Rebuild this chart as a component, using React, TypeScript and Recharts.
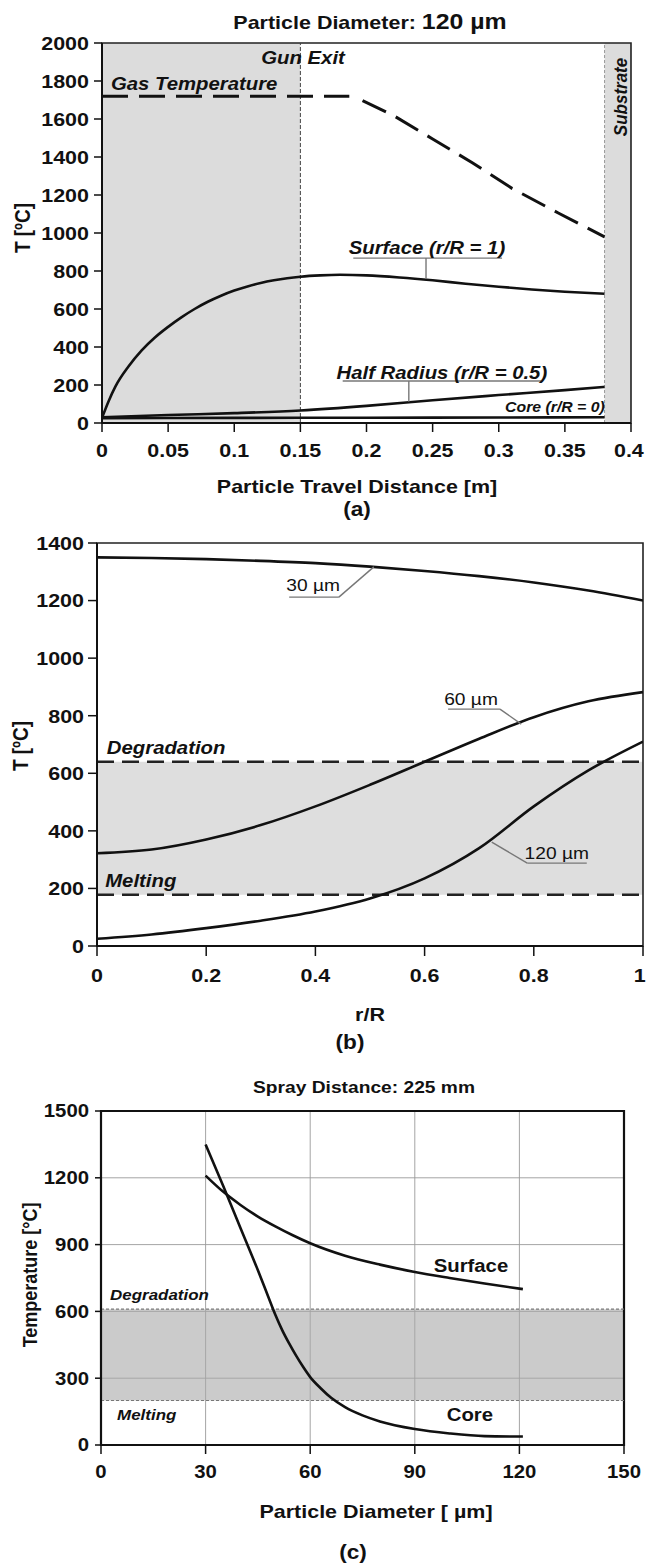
import React from 'react';
import {
  LineChart,
  Line,
  XAxis,
  YAxis,
  ReferenceArea,
  ReferenceLine,
  ReferenceDot,
  CartesianGrid,
} from 'recharts';

const FONT = '"Liberation Sans", Arial, Helvetica, sans-serif';
const SX = 1.13;
const INK = '#111';

// ---------------- Panel (a) data ----------------
const aXTicks = [0, 0.05, 0.1, 0.15, 0.2, 0.25, 0.3, 0.35, 0.4];
const aYTicks = [0, 200, 400, 600, 800, 1000, 1200, 1400, 1600, 1800, 2000];
const aGunExit = 0.15;
const aSubstrate = 0.38;
const aGasFlat = [
  { x: 0, y: 1720 },
  { x: 0.187, y: 1720 },
];
const aGasDecline = [
  { x: 0.197, y: 1697 },
  { x: 0.22, y: 1620 },
  { x: 0.25, y: 1495 },
  { x: 0.28, y: 1370 },
  { x: 0.31, y: 1235 },
  { x: 0.345, y: 1105 },
  { x: 0.38, y: 980 },
];
const aSurface = [
  { x: 0, y: 27 },
  { x: 0.005, y: 115 },
  { x: 0.01, y: 190 },
  { x: 0.02, y: 297 },
  { x: 0.03, y: 382 },
  { x: 0.04, y: 450 },
  { x: 0.05, y: 506 },
  { x: 0.06, y: 556 },
  { x: 0.07, y: 600 },
  { x: 0.08, y: 638 },
  { x: 0.09, y: 670 },
  { x: 0.1, y: 697 },
  { x: 0.11, y: 719 },
  { x: 0.12, y: 737 },
  { x: 0.13, y: 751 },
  { x: 0.14, y: 762 },
  { x: 0.15, y: 770 },
  { x: 0.165, y: 777 },
  { x: 0.18, y: 780 },
  { x: 0.2, y: 777 },
  { x: 0.225, y: 766 },
  { x: 0.25, y: 751 },
  { x: 0.275, y: 733 },
  { x: 0.3, y: 717 },
  { x: 0.325, y: 703 },
  { x: 0.35, y: 691 },
  { x: 0.38, y: 680 },
];
const aHalf = [
  { x: 0, y: 30 },
  { x: 0.05, y: 42 },
  { x: 0.1, y: 52 },
  { x: 0.15, y: 66 },
  { x: 0.2, y: 90 },
  { x: 0.25, y: 120 },
  { x: 0.3, y: 147 },
  { x: 0.35, y: 173 },
  { x: 0.38, y: 190 },
];
const aCore = [
  { x: 0, y: 25 },
  { x: 0.1, y: 27 },
  { x: 0.2, y: 28 },
  { x: 0.3, y: 29 },
  { x: 0.38, y: 30 },
];

// ---------------- Panel (b) data ----------------
const bXTicks = [0, 0.2, 0.4, 0.6, 0.8, 1];
const bYTicks = [0, 200, 400, 600, 800, 1000, 1200, 1400];
const bDegradation = 640;
const bMelting = 178;
const b30 = [
  { x: 0, y: 1350 },
  { x: 0.1, y: 1348 },
  { x: 0.2, y: 1344 },
  { x: 0.3, y: 1338 },
  { x: 0.4, y: 1330 },
  { x: 0.5, y: 1318 },
  { x: 0.6, y: 1303 },
  { x: 0.7, y: 1285 },
  { x: 0.8, y: 1263 },
  { x: 0.9, y: 1235 },
  { x: 1, y: 1200 },
];
const b60 = [
  { x: 0, y: 322 },
  { x: 0.1, y: 335 },
  { x: 0.2, y: 370 },
  { x: 0.3, y: 420 },
  { x: 0.4, y: 485 },
  { x: 0.5, y: 560 },
  { x: 0.6, y: 640 },
  { x: 0.7, y: 720 },
  { x: 0.8, y: 795 },
  { x: 0.9, y: 850 },
  { x: 1, y: 882 },
];
const b120 = [
  { x: 0, y: 25 },
  { x: 0.1, y: 40 },
  { x: 0.2, y: 62 },
  { x: 0.3, y: 88 },
  { x: 0.4, y: 120 },
  { x: 0.5, y: 165 },
  { x: 0.6, y: 235 },
  { x: 0.7, y: 340 },
  { x: 0.8, y: 485 },
  { x: 0.9, y: 610 },
  { x: 1, y: 710 },
];

// ---------------- Panel (c) data ----------------
const cXTicks = [0, 30, 60, 90, 120, 150];
const cYTicks = [0, 300, 600, 900, 1200, 1500];
const cDegradation = 610;
const cMelting = 200;
const cSurface = [
  { x: 30, y: 1210 },
  { x: 35, y: 1138 },
  { x: 40, y: 1078 },
  { x: 45, y: 1026 },
  { x: 50, y: 982 },
  { x: 55, y: 942 },
  { x: 60, y: 906 },
  { x: 70, y: 850 },
  { x: 80, y: 810 },
  { x: 90, y: 777 },
  { x: 100, y: 750 },
  { x: 110, y: 725 },
  { x: 121, y: 700 },
];
const cCore = [
  { x: 30, y: 1350 },
  { x: 35, y: 1165 },
  { x: 40, y: 975 },
  { x: 45, y: 785 },
  { x: 48, y: 665 },
  { x: 50, y: 585 },
  { x: 52, y: 515 },
  { x: 54, y: 455 },
  { x: 56, y: 400 },
  { x: 58, y: 350 },
  { x: 60, y: 305 },
  { x: 63, y: 255 },
  { x: 66, y: 212 },
  { x: 70, y: 170 },
  { x: 75, y: 133 },
  { x: 80, y: 106 },
  { x: 90, y: 72 },
  { x: 100, y: 52 },
  { x: 110, y: 40 },
  { x: 121, y: 38 },
];

// ---------------- helpers ----------------
const RIGHT_LIMIT = 645;
const makeXTick = (fs: number) => (props: any) => {
  const { x, y, payload } = props;
  const est = String(payload.value).length * fs * 0.5 * SX;
  const dx = Math.min(0, RIGHT_LIMIT - (x + est / 2));
  return (
    <g transform={`translate(${x + dx},${y}) scale(${SX},1)`}>
      <text x={0} y={0} dy={fs * 0.72} textAnchor="middle" fontSize={fs} fontWeight="bold" fontFamily={FONT} fill={INK}>
        {payload.value}
      </text>
    </g>
  );
};
const makeYTick = (fs: number) => (props: any) => {
  const { x, y, payload } = props;
  return (
    <g transform={`translate(${x},${y}) scale(${SX},1)`}>
      <text x={0} y={0} dy={fs * 0.36} textAnchor="end" fontSize={fs} fontWeight="bold" fontFamily={FONT} fill={INK}>
        {payload.value}
      </text>
    </g>
  );
};

type AnnOpts = {
  fs: number;
  italic?: boolean;
  bold?: boolean;
  anchor?: 'start' | 'middle' | 'end';
  rotate?: number;
  color?: string;
};
const ann = (text: string, o: AnnOpts) => (props: any) => {
  const vb = props.viewBox || {};
  const cx = (vb.x ?? props.x ?? 0) + (vb.width ?? 0) / 2;
  const cy = (vb.y ?? props.y ?? 0) + (vb.height ?? 0) / 2;
  const tr = o.rotate
    ? `translate(${cx},${cy}) rotate(${o.rotate}) scale(1,${SX})`
    : `translate(${cx},${cy}) scale(${SX},1)`;
  return (
    <g transform={tr}>
      <text
        x={0}
        y={0}
        dy={o.fs * 0.36}
        textAnchor={o.anchor || 'middle'}
        fontSize={o.fs}
        fontStyle={o.italic ? 'italic' : 'normal'}
        fontWeight={o.bold === false ? 'normal' : 'bold'}
        fontFamily={FONT}
        fill={o.color || INK}
      >
        {text}
      </text>
    </g>
  );
};

const Note = (x: number, y: number, text: string, o: AnnOpts) => (
  <ReferenceDot key={`n-${text}`} x={x} y={y} r={0} fill="none" stroke="none" label={ann(text, o)} />
);
const Seg = (k: string, x1: number, y1: number, x2: number, y2: number, color = '#777', w = 1.4) => (
  <ReferenceLine
    key={k}
    segment={[
      { x: x1, y: y1 },
      { x: x2, y: y2 },
    ]}
    stroke={color}
    strokeWidth={w}
  />
);

const curve = { type: 'monotone' as const, dataKey: 'y', stroke: INK, dot: false, activeDot: false, isAnimationActive: false };

const axisLine = { stroke: INK, strokeWidth: 2 };
const tickLine = { stroke: INK, strokeWidth: 1.5 };

function PanelA() {
  return (
    <LineChart width={647} height={500} margin={{ top: 43, right: 16, left: 42, bottom: 47 }}>
      <XAxis
        dataKey="x"
        type="number"
        domain={[0, 0.4]}
        ticks={aXTicks}
        interval={0}
        height={30}
        tickSize={9}
        tickMargin={11}
        axisLine={axisLine}
        tickLine={tickLine}
        tick={makeXTick(19)}
        allowDataOverflow
      />
      <YAxis
        type="number"
        domain={[0, 2000]}
        ticks={aYTicks}
        interval={0}
        width={60}
        tickSize={8}
        tickMargin={5}
        axisLine={axisLine}
        tickLine={tickLine}
        tick={makeYTick(19)}
        allowDataOverflow
      />
      <ReferenceArea x1={0} x2={aGunExit} y1={0} y2={2000} fill="#dcdcdc" fillOpacity={1} stroke="none" />
      <ReferenceArea x1={aSubstrate} x2={0.4} y1={0} y2={2000} fill="#dcdcdc" fillOpacity={1} stroke="none" />
      <ReferenceArea x1={0} x2={0.4} y1={0} y2={2000} fill="none" stroke="#222" strokeWidth={1.6} />
      <ReferenceLine x={aGunExit} stroke="#444" strokeWidth={1} strokeDasharray="4 2" />
      <ReferenceLine x={aSubstrate} stroke="#999" strokeWidth={1} strokeDasharray="3 2" />
      <Line {...curve} data={aGasFlat} type="linear" strokeWidth={3} strokeDasharray="26 11" />
      <Line {...curve} data={aGasDecline} type="linear" strokeWidth={3} strokeDasharray="26 11" />
      <Line {...curve} data={aSurface} strokeWidth={2.6} />
      <Line {...curve} data={aHalf} strokeWidth={2.6} />
      <Line {...curve} data={aCore} strokeWidth={2.6} />
      {Seg('a-su-u', 0.19, 868, 0.3025, 868)}
      {Seg('a-su-l', 0.245, 868, 0.245, 758)}
      {Seg('a-hr-u', 0.182, 221, 0.332, 221)}
      {Seg('a-hr-l', 0.232, 221, 0.232, 112)}
      {Note(0.0068, 1789, 'Gas Temperature', { fs: 18, italic: true, anchor: 'start' })}
      {Note(0.152, 1921, 'Gun Exit', { fs: 18, italic: true })}
      {Note(0.3917, 1716, 'Substrate', { fs: 17, italic: true, rotate: -90 })}
      {Note(0.2457, 926, 'Surface (r/R = 1)', { fs: 18, italic: true })}
      {Note(0.257, 268, 'Half Radius (r/R = 0.5)', { fs: 18, italic: true })}
      {Note(0.3425, 84, 'Core (r/R = 0)', { fs: 14, italic: true })}
    </LineChart>
  );
}

function PanelB() {
  return (
    <LineChart width={647} height={500} margin={{ top: 43, right: 4, left: 37, bottom: 24 }}>
      <XAxis
        dataKey="x"
        type="number"
        domain={[0, 1]}
        ticks={bXTicks}
        interval={0}
        height={30}
        tickSize={10}
        tickMargin={12}
        axisLine={axisLine}
        tickLine={tickLine}
        tick={makeXTick(19)}
        allowDataOverflow
      />
      <YAxis
        type="number"
        domain={[0, 1400]}
        ticks={bYTicks}
        interval={0}
        width={60}
        tickSize={9}
        tickMargin={4}
        axisLine={axisLine}
        tickLine={tickLine}
        tick={makeYTick(19)}
        allowDataOverflow
      />
      <ReferenceArea x1={0} x2={1} y1={bMelting} y2={bDegradation} fill="#dedede" fillOpacity={1} stroke="none" />
      <ReferenceArea x1={0} x2={1} y1={0} y2={1400} fill="none" stroke="#222" strokeWidth={1.6} />
      <ReferenceLine y={bDegradation} stroke="#222" strokeWidth={2.4} strokeDasharray="17 8" />
      <ReferenceLine y={bMelting} stroke="#222" strokeWidth={2.4} strokeDasharray="17 8" />
      <Line {...curve} data={b30} strokeWidth={2.6} />
      <Line {...curve} data={b60} strokeWidth={2.6} />
      <Line {...curve} data={b120} strokeWidth={2.6} />
      {Seg('b30-u', 0.352, 1212, 0.443, 1212)}
      {Seg('b30-l', 0.443, 1212, 0.507, 1317)}
      {Seg('b60-u', 0.643, 823, 0.738, 823)}
      {Seg('b60-l', 0.738, 823, 0.777, 771)}
      {Seg('b120-u', 0.788, 288, 0.897, 288)}
      {Seg('b120-l', 0.788, 288, 0.723, 361)}
      {Note(0.396, 1254, '30 µm', { fs: 17, bold: false })}
      {Note(0.685, 858, '60 µm', { fs: 17, bold: false })}
      {Note(0.842, 323, '120 µm', { fs: 17, bold: false })}
      {Note(0.018, 691, 'Degradation', { fs: 18, italic: true, anchor: 'start' })}
      {Note(0.015, 229, 'Melting', { fs: 18, italic: true, anchor: 'start' })}
    </LineChart>
  );
}

function PanelC() {
  return (
    <LineChart width={647} height={565} margin={{ top: 111, right: 23, left: 41, bottom: 90 }}>
      <CartesianGrid stroke="#9a9a9a" strokeWidth={0.9} />
      <XAxis
        dataKey="x"
        type="number"
        domain={[0, 150]}
        ticks={cXTicks}
        interval={0}
        height={30}
        tickSize={9}
        tickMargin={11}
        axisLine={axisLine}
        tickLine={tickLine}
        tick={makeXTick(18)}
        allowDataOverflow
      />
      <YAxis
        type="number"
        domain={[0, 1500]}
        ticks={cYTicks}
        interval={0}
        width={60}
        tickSize={6}
        tickMargin={6}
        axisLine={axisLine}
        tickLine={tickLine}
        tick={makeYTick(18)}
        allowDataOverflow
      />
      <ReferenceArea x1={0} x2={150} y1={cMelting} y2={cDegradation} fill="#a8a8a8" fillOpacity={0.6} stroke="none" />
      <ReferenceArea x1={0} x2={150} y1={0} y2={1500} fill="none" stroke="#111" strokeWidth={2.2} />
      <ReferenceLine y={cDegradation} stroke="#777" strokeWidth={1.1} strokeDasharray="3 2" />
      <ReferenceLine y={cMelting} stroke="#777" strokeWidth={1.1} strokeDasharray="3 2" />
      <Line {...curve} data={cSurface} strokeWidth={2.6} />
      <Line {...curve} data={cCore} strokeWidth={2.6} />
      {Note(106.1, 804, 'Surface', { fs: 18 })}
      {Note(105.8, 135, 'Core', { fs: 18 })}
      {Note(2.6, 674, 'Degradation', { fs: 15, italic: true, anchor: 'start' })}
      {Note(4.6, 135, 'Melting', { fs: 15, italic: true, anchor: 'start' })}
    </LineChart>
  );
}

const T = (props: {
  x: number;
  y: number;
  fs: number;
  children: React.ReactNode;
  rotate?: boolean;
  bold?: boolean;
}) => {
  const tr = props.rotate
    ? `translate(${props.x},${props.y}) rotate(-90) scale(1,${SX})`
    : `translate(${props.x},${props.y}) scale(${SX},1)`;
  return (
    <g transform={tr}>
      <text
        x={0}
        y={0}
        dy={props.rotate ? props.fs * 0.36 : 0}
        textAnchor="middle"
        fontSize={props.fs}
        fontWeight={props.bold === false ? 'normal' : 'bold'}
        fontFamily={FONT}
        fill={INK}
      >
        {props.children}
      </text>
    </g>
  );
};

export default function App() {
  return (
    <div style={{ position: 'absolute', left: 0, top: 0, width: 647, height: 1565, background: '#fff' }}>
      <div style={{ position: 'absolute', left: 0, top: 0 }}>
        <PanelA />
      </div>
      <div style={{ position: 'absolute', left: 0, top: 500 }}>
        <PanelB />
      </div>
      <div style={{ position: 'absolute', left: 0, top: 1000 }}>
        <PanelC />
      </div>
      <svg width={647} height={1565} style={{ position: 'absolute', left: 0, top: 0, pointerEvents: 'none' }}>
        <T x={370} y={29} fs={19}>
          Particle Diameter: <tspan fontSize={22}>120 µm</tspan>
        </T>
        <T x={357} y={493} fs={19}>Particle Travel Distance [m]</T>
        <T x={357} y={516} fs={20}>(a)</T>
        <T x={22} y={228} fs={19} rotate>T [ºC]</T>

        <T x={370} y={1021} fs={19}>r/R</T>
        <T x={350} y={1049} fs={20}>(b)</T>
        <T x={20} y={746} fs={19} rotate>T [ºC]</T>

        <T x={364} y={1093} fs={17}>Spray Distance: 225 mm</T>
        <T x={30} y={1275} fs={18} rotate>Temperature [°C]</T>
        <T x={376} y={1518} fs={19}>Particle Diameter [ µm]</T>
        <T x={353} y={1559} fs={20}>(c)</T>
      </svg>
    </div>
  );
}
